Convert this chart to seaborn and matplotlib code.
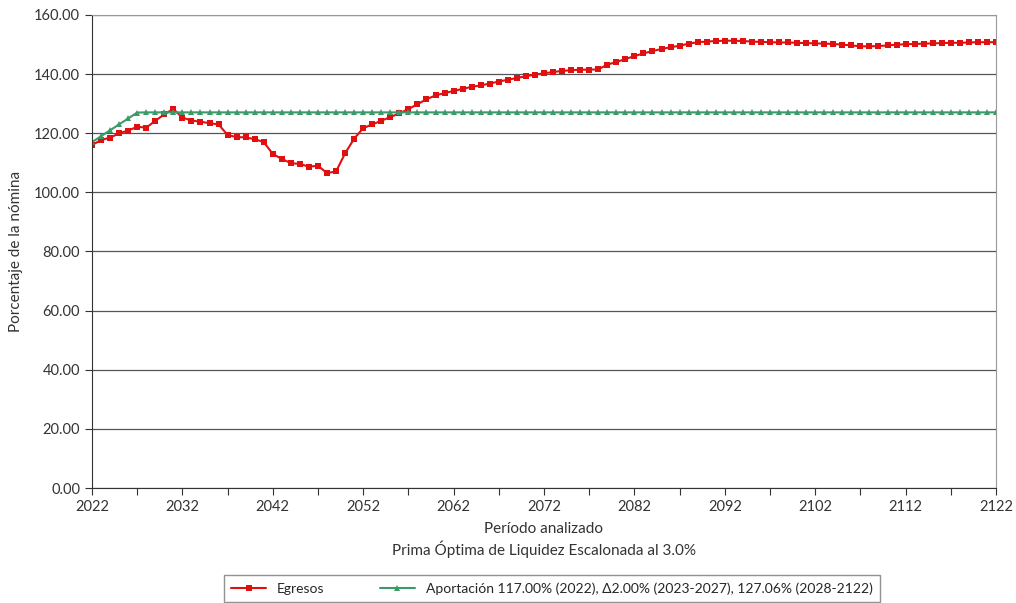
import matplotlib.pyplot as plt
import seaborn as sns
import pandas as pd

# Years analysed
years = list(range(2022, 2123))

# Egresos (% of payroll)
egresos = [
    116.0, 117.7, 118.5, 120.0, 120.9, 122.2, 121.9, 124.2, 126.4, 128.2,  # 2022-2031
    125.3, 124.3, 123.9, 123.4, 123.0, 119.4, 118.7, 118.6, 118.0, 117.0,  # 2032-2041
    113.0, 111.3, 109.9, 109.6, 108.7, 109.0, 106.5, 107.1, 113.2, 118.2,  # 2042-2051
    121.7, 123.0, 124.2, 125.5, 126.7, 128.2, 129.8, 131.5, 132.8, 133.6,  # 2052-2061
    134.3, 135.0, 135.7, 136.2, 136.8, 137.5, 138.1, 138.7, 139.3, 139.8,  # 2062-2071
    140.3, 140.7, 141.1, 141.3, 141.5, 141.5, 141.6, 143.2, 144.1, 145.1,  # 2072-2081
    146.1, 147.0, 147.8, 148.5, 149.1, 149.6, 150.3, 150.8, 151.0, 151.2,  # 2082-2091
    151.3, 151.3, 151.2, 151.0, 150.9, 150.8, 150.7, 150.7, 150.6, 150.5,  # 2092-2101
    150.4, 150.3, 150.2, 150.0, 149.7, 149.4, 149.4, 149.5, 149.7, 150.0,  # 2102-2111
    150.1, 150.2, 150.3, 150.4, 150.5, 150.6, 150.6, 150.7, 150.8, 150.8,  # 2112-2121
    150.8,                                                                  # 2122
]

# Aportación: 117% in 2022, +2% per year 2023-2027, then 127.06%
aportacion = [117.0, 119.0, 121.0, 123.0, 125.0, 127.0] + [127.06] * 95

label_egr = "Egresos"
label_apo = "Aportación 117.00% (2022), Δ2.00% (2023-2027), 127.06% (2028-2122)"

red = "#e01010"
green = "#3c9a68"

df = pd.DataFrame({"year": years, "egresos": egresos, "aportacion": aportacion})

sns.set_style("white")
plt.rcParams["font.family"] = ["Lato", "DejaVu Sans"]

fig = plt.figure(figsize=(10.16, 6.03), dpi=100)
ax = fig.add_axes([92 / 1016, 1 - 488 / 603, (996 - 92) / 1016, (488 - 15) / 603])

sns.lineplot(data=df, x="year", y="egresos", ax=ax, color=red, marker="s",
             markersize=5, markeredgewidth=0, linewidth=1.5, label=label_egr)
sns.lineplot(data=df, x="year", y="aportacion", ax=ax, color=green, marker="^",
             markersize=4.5, markeredgewidth=0, linewidth=1.5, label=label_apo)

ax.set_xlim(2022, 2122)
ax.set_ylim(0, 160)
ax.set_xticks(range(2022, 2123, 10))
ax.set_xticks(range(2027, 2123, 10), minor=True)
ax.set_yticks(range(0, 161, 20))
ax.set_yticklabels([f"{v:.2f}" for v in range(0, 161, 20)])
ax.tick_params(axis="both", which="both", direction="out", length=5, width=0.8,
               colors="#333333", labelsize=10.5, bottom=True, left=True)

ax.yaxis.grid(True, color="#555555", linewidth=0.9)
ax.set_axisbelow(True)
for side in ["top", "right"]:
    ax.spines[side].set_color("#999999")
for side in ["left", "bottom"]:
    ax.spines[side].set_color("#333333")

ax.set_xlabel("Período analizado\nPrima Óptima de Liquidez Escalonada al 3.0%",
              fontsize=11, color="#333333", labelpad=6, linespacing=1.3)
ax.set_ylabel("Porcentaje de la nómina", fontsize=11, color="#333333", labelpad=8)

ax.get_legend().remove()
handles, labels = ax.get_legend_handles_labels()
leg = fig.legend(handles, labels, loc="lower center", ncol=2,
                 bbox_to_anchor=(552 / 1016, 0.0), frameon=True, fancybox=False,
                 fontsize=10, handlelength=2.5, columnspacing=4,
                 borderpad=0.5, borderaxespad=0.1)
leg.get_frame().set_edgecolor("#777777")
leg.get_frame().set_linewidth(1.0)

fig.savefig("out.png", dpi=100)
